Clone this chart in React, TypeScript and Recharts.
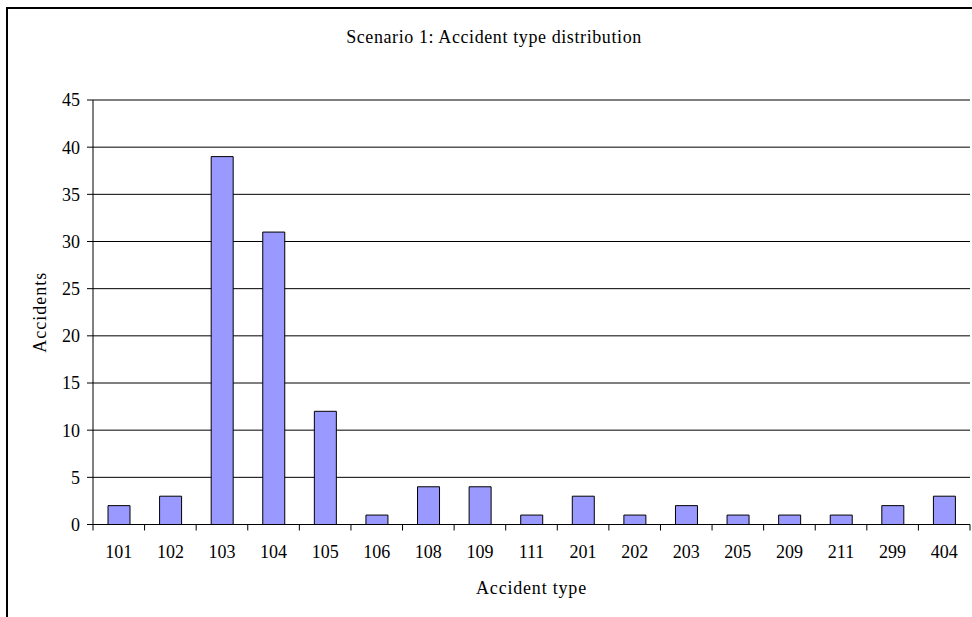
import React from 'react';
import { BarChart, Bar, XAxis, YAxis, CartesianGrid } from 'recharts';

// Accident counts per accident type code
const accidentTypes = ['101', '102', '103', '104', '105', '106', '108', '109', '111', '201', '202', '203', '205', '209', '211', '299', '404'];
const accidentCounts = [2, 3, 39, 31, 12, 1, 4, 4, 1, 3, 1, 2, 1, 1, 1, 2, 3];
const yTicks = [0, 5, 10, 15, 20, 25, 30, 35, 40, 45];

const chartTitle = 'Scenario 1: Accident type distribution';
const xTitle = 'Accident type';
const yTitle = 'Accidents';

const data = accidentTypes.map((type, i) => ({ type, accidents: accidentCounts[i] }));

const FONT = '"Liberation Serif", "Times New Roman", serif';
const X_TICK_GAP = 21; // distance from the axis line to the label anchor
const X_TICK_LEN = 6;

// Category label centred under the bar, with tick marks on the category boundaries
const CategoryTick = (props: any) => {
  const { x, y, payload, width, visibleTicksCount, index } = props;
  const band = payload && payload.offset ? payload.offset * 2 : width / visibleTicksCount;
  const axisY = y - X_TICK_GAP;
  const left = x - band / 2;
  const right = x + band / 2;
  const isLast = index === visibleTicksCount - 1;
  return (
    <g>
      <line x1={left} x2={left} y1={axisY} y2={axisY + X_TICK_LEN} stroke="#000" />
      {isLast && <line x1={right} x2={right} y1={axisY} y2={axisY + X_TICK_LEN} stroke="#000" />}
      <text x={x} y={y} dy="0.71em" textAnchor="middle" fill="#000" fontSize={18} fontFamily={FONT}>
        {payload.value}
      </text>
    </g>
  );
};

export default function App() {
  return (
    <div style={{ position: 'absolute', left: 0, top: 0, width: 972, height: 617, overflow: 'hidden', background: '#fff', fontFamily: FONT }}>
      <div style={{ position: 'absolute', left: 6, top: 7, width: 1000, height: 700, borderLeft: '2px solid #000', borderTop: '2px solid #000' }} />
      <div style={{ position: 'absolute', left: 0, width: 988, top: 27, textAlign: 'center', fontSize: 18, letterSpacing: 0.6, color: '#000', whiteSpace: 'nowrap' }}>
        {chartTitle}
      </div>
      <div style={{ position: 'absolute', left: 0, top: 0 }}>
        <BarChart
          width={972}
          height={617}
          data={data}
          margin={{ top: 100, right: 2, left: 33, bottom: 52.5 }}
          style={{ fontFamily: FONT }}
        >
          <CartesianGrid vertical={false} stroke="#000" strokeOpacity={1} />
          <XAxis
            dataKey="type"
            height={40}
            interval={0}
            tickLine={false}
            tickSize={0}
            tickMargin={X_TICK_GAP}
            axisLine={{ stroke: '#000' }}
            tick={<CategoryTick />}
            label={{
              content: (props: any) => {
                const vb = props.viewBox || {};
                return (
                  <text x={vb.x + vb.width / 2} y={594} textAnchor="middle" fill="#000" fontSize={18} letterSpacing={0.8} fontFamily={FONT}>
                    {xTitle}
                  </text>
                );
              },
            }}
          />
          <YAxis
            width={60}
            domain={[0, 45]}
            ticks={yTicks}
            interval={0}
            tickSize={6}
            tickMargin={7}
            axisLine={{ stroke: '#000' }}
            tickLine={{ stroke: '#000' }}
            tick={{ fill: '#000', fontSize: 18, fontFamily: FONT }}
            label={{
              content: (props: any) => {
                const vb = props.viewBox || {};
                const cx = vb.x + 7;
                const cy = vb.y + vb.height / 2;
                return (
                  <text x={cx} y={cy} transform={`rotate(-90, ${cx}, ${cy})`} textAnchor="middle" dominantBaseline="central" fill="#000" fontSize={18} letterSpacing={1} fontFamily={FONT}>
                    {yTitle}
                  </text>
                );
              },
            }}
          />
          <YAxis
            yAxisId="frame"
            orientation="right"
            width={0}
            domain={[0, 45]}
            tick={false}
            tickLine={false}
            axisLine={{ stroke: '#000' }}
          />
          <Bar
            dataKey="accidents"
            fill="#9999FF"
            stroke="#000"
            strokeWidth={1}
            barSize={22}
            isAnimationActive={false}
          />
        </BarChart>
      </div>
    </div>
  );
}
